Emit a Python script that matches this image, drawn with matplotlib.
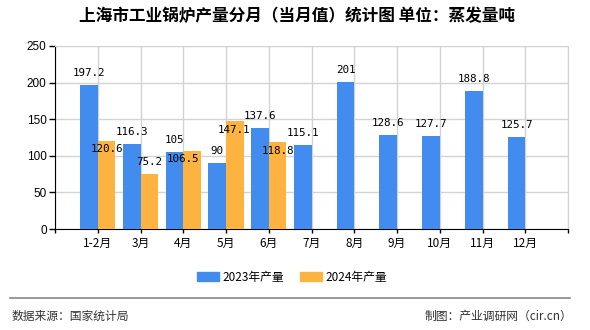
import matplotlib
matplotlib.use("Agg")
import matplotlib.pyplot as plt
from matplotlib.patches import Patch
from matplotlib.lines import Line2D
import numpy as np

plt.rcParams['font.family'] = ['Noto Sans CJK SC', 'DejaVu Sans']

# data
months = ['1-2月', '3月', '4月', '5月', '6月', '7月', '8月', '9月', '10月', '11月', '12月']
prod_2023 = [197.2, 116.3, 105, 90, 137.6, 115.1, 201, 128.6, 127.7, 188.8, 125.7]
prod_2024 = [120.6, 75.2, 106.5, 147.1, 118.8]

title = '上海市工业锅炉产量分月（当月值）统计图 单位：蒸发量吨'
legend_labels = ['2023年产量', '2024年产量']
source_text = '数据来源：国家统计局'
credit_text = '制图：产业调研网（cir.cn）'

c2023 = '#418CEE'
c2024 = '#FCB33F'
grid_c = '#d3d3d3'

# label nudges (pixels) for the 2024 values, as placed in the original
dx_2024 = [0, 0, -9, -1, 0]
dy_2024 = [-8, 12, -8, -9, -9]

fig = plt.figure(figsize=(5.9, 3.3), dpi=100)
ax = fig.add_axes([55 / 590, 1 - 229 / 330, (568 - 55) / 590, (229 - 46) / 330])

x = np.arange(1, len(months) + 1)
w = 0.41
ax.bar(x[:len(prod_2023)] - w / 2, prod_2023, w, color=c2023, zorder=3)
ax.bar(x[:len(prod_2024)] + w / 2, prod_2024, w, color=c2024, zorder=3)

lbl_font = dict(family='DejaVu Sans Mono', fontsize=7.8, color='black')
for xi, v in zip(x, prod_2023):
    ax.annotate(f'{v:g}', (xi - w / 2, v), xytext=(0, 12), textcoords='offset pixels',
                ha='center', va='center', zorder=5, **lbl_font)
for xi, v, dx, dy in zip(x, prod_2024, dx_2024, dy_2024):
    ax.annotate(f'{v:g}', (xi + w / 2, v), xytext=(dx, dy), textcoords='offset pixels',
                ha='center', va='center', zorder=5, **lbl_font)

ax.set_xlim(0, len(months) + 1)
ax.set_ylim(0, 250)
ax.set_yticks(range(0, 251, 50))
ax.set_xticks(range(0, len(months) + 2))
ax.set_xticklabels([''] + months + [''])
ax.tick_params(axis='y', length=4, width=1, pad=2, labelsize=8.5, colors='black')
ax.tick_params(axis='x', length=3, width=1, pad=3, labelsize=8.5, colors='black')
for lab in ax.get_yticklabels():
    lab.set_family('Liberation Sans')

ax.grid(True, color=grid_c, linewidth=1, zorder=0)
ax.set_axisbelow(True)
ax.spines['left'].set_color('black')
ax.spines['bottom'].set_color('black')
ax.spines['top'].set_color(grid_c)
ax.spines['right'].set_color(grid_c)

fig.text(297 / 590, 1 - 16 / 330, title, ha='center', va='center',
         fontsize=12, fontweight='bold', color='black')

handles = [Patch(color=c2023), Patch(color=c2024)]
fig.legend(handles, legend_labels, loc='center', bbox_to_anchor=(292 / 590, 1 - 277 / 330),
           ncol=2, frameon=False, fontsize=8.5, handlelength=1.9, handleheight=0.75,
           handletextpad=0.3, columnspacing=1.3)

fig.add_artist(Line2D([10 / 590, 570 / 590], [1 - 298 / 330, 1 - 298 / 330],
                      color='#888888', linewidth=1.2))
fig.text(12 / 590, 1 - 316 / 330, source_text, ha='left', va='center',
         fontsize=8.5, color='#333333')
fig.text(572 / 590, 1 - 316 / 330, credit_text, ha='right', va='center',
         fontsize=8.5, color='#333333')

fig.savefig('out.png', dpi=100)
